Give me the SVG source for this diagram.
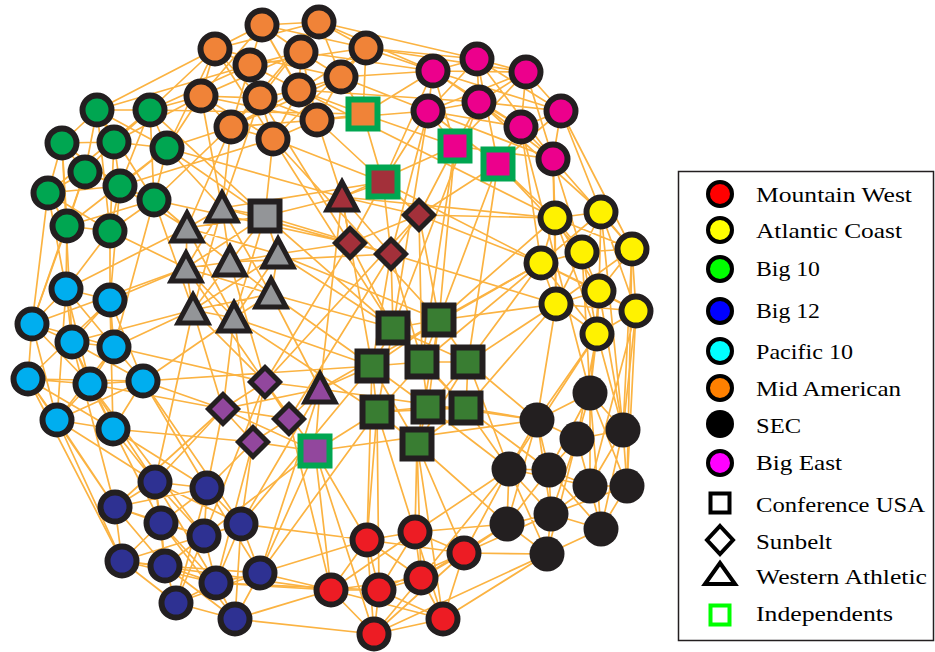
<svg xmlns="http://www.w3.org/2000/svg" width="935" height="652" viewBox="0 0 935 652">
<style>
.e{fill:none;stroke:#fbb342;stroke-width:1.7}
.n{stroke:#231f20;stroke-width:6}
.nd{stroke:#231f20;stroke-width:5}
.ind{stroke:#00a651;stroke-width:6}
.ma{fill:#f08338}.be{fill:#ec008c}.bt{fill:#00a651}.pc{fill:#00aeef}.wa{fill:#939598}
.br{fill:#a3303a}.pu{fill:#92479d}.cu{fill:#397d32}.ac{fill:#fff200}.se{fill:#231f20}
.mw{fill:#ed1c24}.b12{fill:#2e3192}
.lt{font-family:"Liberation Serif","Times New Roman",serif;font-size:22px;fill:#000}
.lc{stroke:#000;stroke-width:4}
</style>
<defs>
<path id="tri" d="M0,-15L15,13L-15,13Z"/>
<path id="dia" d="M0,-14.5L14.5,0L0,14.5L-14.5,0Z"/>
<rect id="sq" x="-14.5" y="-14.5" width="29" height="29"/>
</defs>
<rect width="935" height="652" fill="#fff"/>
<g id="connectors">
<path class="e" d="M262 25L319 22M262 25L215 49M262 25L250 65M262 25L301 52M262 25L366 48M262 25L201 96M262 25L299 90M262 25L317 120M319 22L301 52M319 22L366 48M319 22L341 77M319 22L215 49M319 22L260 98M319 22L231 127M215 49L250 65M215 49L201 96M215 49L260 98M215 49L273 139M215 49L341 77M250 65L301 52M250 65L260 98M250 65L299 90M250 65L231 127M250 65L366 48M301 52L341 77M301 52L299 90M301 52L317 120M301 52L201 96M366 48L341 77M366 48L299 90M366 48L273 139M341 77L299 90M341 77L317 120M341 77L231 127M201 96L260 98M201 96L231 127M201 96L273 139M201 96L317 120M260 98L299 90M260 98L273 139M260 98L317 120M299 90L231 127M299 90L273 139M231 127L273 139M231 127L317 120M273 139L317 120"/>
<path class="e" d="M433 71L477 59M433 71L526 72M433 71L428 111M433 71L479 102M433 71L521 127M433 71L561 111M477 59L526 72M477 59L479 102M477 59L561 111M477 59L553 159M477 59L428 111M526 72L479 102M526 72L561 111M526 72L521 127M526 72L428 111M428 111L479 102M428 111L521 127M428 111L553 159M479 102L561 111M479 102L553 159M479 102L521 127M561 111L521 127M561 111L553 159M521 127L553 159M455 146L433 71M455 146L428 111M455 146L479 102M455 146L526 72M455 146L553 159M498 164L477 59M498 164L521 127M498 164L561 111M498 164L428 111"/>
<path class="e" d="M97 110L150 110M97 110L62 143M97 110L114 142M97 110L167 148M97 110L85 172M97 110L154 200M97 110L110 231M150 110L114 142M150 110L167 148M150 110L120 186M150 110L154 200M150 110L48 193M62 143L114 142M62 143L85 172M62 143L48 193M62 143L67 226M62 143L120 186M114 142L167 148M114 142L85 172M114 142L120 186M114 142L110 231M167 148L120 186M167 148L154 200M167 148L67 226M85 172L120 186M85 172L48 193M85 172L67 226M85 172L154 200M120 186L154 200M120 186L110 231M120 186L48 193M48 193L67 226M48 193L110 231M154 200L110 231M154 200L67 226M67 226L110 231"/>
<path class="e" d="M66 289L110 300M66 289L32 324M66 289L72 342M66 289L114 347M66 289L90 384M66 289L57 420M110 300L72 342M110 300L114 347M110 300L143 381M110 300L28 379M110 300L113 429M32 324L72 342M32 324L28 379M32 324L90 384M32 324L57 420M32 324L114 347M72 342L114 347M72 342L90 384M72 342L143 381M72 342L113 429M114 347L90 384M114 347L143 381M114 347L57 420M28 379L90 384M28 379L57 420M28 379L113 429M28 379L143 381M90 384L143 381M90 384L57 420M90 384L113 429M143 381L113 429M143 381L57 420M57 420L113 429"/>
<path class="e" d="M222 208L265 216M222 208L187 228M222 208L186 268M222 208L230 262M222 208L193 310M222 208L271 294M265 216L230 262M265 216L278 254M265 216L187 228M265 216L234 318M265 216L186 268M187 228L186 268M187 228L230 262M187 228L234 318M187 228L278 254M186 268L193 310M186 268L234 318M186 268L271 294M186 268L230 262M230 262L278 254M230 262L193 310M230 262L271 294M278 254L271 294M278 254L234 318M278 254L193 310M193 310L234 318M193 310L271 294M234 318L271 294"/>
<path class="e" d="M265 382L223 409M265 382L289 419M265 382L253 442M265 382L320 389M223 409L253 442M223 409L289 419M289 419L253 442M289 419L320 389M320 389L315 451M253 442L315 451M315 451L223 409M265 382L315 451M320 389L223 409M419 215L350 243M419 215L391 254M350 243L391 254M342 197L419 215M342 197L350 243M342 197L391 254M383 182L419 215M383 182L350 243M383 182L342 197M383 182L391 254M350 243L265 382M391 254L289 419M419 215L265 382M342 197L320 389"/>
<path class="e" d="M393 328L439 320M393 328L372 366M393 328L422 362M393 328L468 362M393 328L377 412M393 328L466 408M439 320L422 362M439 320L468 362M439 320L372 366M439 320L428 407M439 320L417 444M372 366L422 362M372 366L377 412M372 366L428 407M372 366L417 444M422 362L468 362M422 362L428 407M422 362L466 408M422 362L377 412M468 362L466 408M468 362L428 407M468 362L417 444M377 412L428 407M377 412L417 444M377 412L466 408M428 407L466 408M428 407L417 444M466 408L417 444"/>
<path class="e" d="M555 218L601 212M555 218L541 263M555 218L582 252M555 218L632 249M555 218L599 291M555 218L556 304M555 218L597 334M601 212L582 252M601 212L632 249M601 212L541 263M601 212L599 291M601 212L636 311M541 263L582 252M541 263L556 304M541 263L599 291M541 263L597 334M541 263L636 311M582 252L632 249M582 252L599 291M582 252L556 304M582 252L597 334M632 249L599 291M632 249L636 311M632 249L556 304M599 291L556 304M599 291L636 311M599 291L597 334M556 304L597 334M556 304L636 311M636 311L597 334"/>
<path class="e" d="M590 393L537 420M590 393L577 439M590 393L623 430M590 393L590 486M590 393L627 486M590 393L549 470M590 393L601 529M537 420L577 439M537 420L509 469M537 420L549 470M537 420L551 514M537 420L507 524M577 439L623 430M577 439L549 470M577 439L590 486M577 439L551 514M577 439L547 554M623 430L590 486M623 430L627 486M623 430L601 529M509 469L549 470M509 469L507 524M509 469L551 514M509 469L547 554M509 469L590 486M549 470L590 486M549 470L551 514M549 470L507 524M549 470L601 529M590 486L627 486M590 486L601 529M590 486L551 514M627 486L601 529M627 486L551 514M507 524L551 514M507 524L547 554M551 514L601 529M551 514L547 554M601 529L547 554"/>
<path class="e" d="M367 540L415 532M367 540L464 553M367 540L331 590M367 540L379 590M367 540L421 578M367 540L374 634M415 532L464 553M415 532L379 590M415 532L421 578M415 532L443 619M415 532L331 590M464 553L421 578M464 553L443 619M464 553L379 590M464 553L374 634M331 590L379 590M331 590L374 634M331 590L421 578M331 590L443 619M379 590L421 578M379 590L374 634M379 590L443 619M421 578L443 619M421 578L374 634M443 619L374 634"/>
<path class="e" d="M155 482L207 488M155 482L115 507M155 482L161 523M155 482L204 536M155 482L241 524M155 482L165 566M155 482L216 583M207 488L161 523M207 488L204 536M207 488L241 524M207 488L260 573M207 488L115 507M207 488L176 603M115 507L161 523M115 507L122 561M115 507L165 566M115 507L204 536M161 523L204 536M161 523L122 561M161 523L165 566M161 523L216 583M161 523L235 619M204 536L241 524M204 536L216 583M204 536L165 566M204 536L176 603M241 524L260 573M241 524L216 583M241 524L235 619M241 524L122 561M122 561L165 566M122 561L176 603M122 561L216 583M165 566L216 583M165 566L176 603M165 566L235 619M165 566L260 573M216 583L260 573M216 583L235 619M216 583L176 603M260 573L235 619M260 573L176 603M176 603L235 619"/>
<path class="e" d="M215 49L97 110M201 96L150 110M201 96L167 148M215 49L150 110M231 127L167 148M201 96L114 142M250 65L97 110M260 98L154 200M273 139L120 186M366 48L433 71M319 22L477 59M341 77L428 111M301 52L433 71M299 90L479 102M317 120L428 111M366 48L526 72M363 114L433 71M363 114L341 77M363 114L317 120M363 114L299 90M363 114L455 146M363 114L383 182M363 114L366 48M273 139L265 216M317 120L342 197M231 127L222 208M260 98L350 243M273 139L393 328M299 90L555 218M553 159L555 218M561 111L601 212M521 127L541 263M498 164L555 218M498 164L582 252M553 159L632 249M455 146L439 320M498 164L468 362M428 111L383 182M455 146L419 215M521 127L590 393M479 102L393 328"/>
<path class="e" d="M67 226L66 289M110 231L110 300M48 193L32 324M67 226L32 324M110 231L66 289M120 186L110 300M154 200L114 347M48 193L66 289M154 200L187 228M167 148L222 208M110 231L186 268M120 186L187 228M154 200L193 310M57 420L115 507M113 429L155 482M113 429L207 488M90 384L155 482M28 379L115 507M143 381L207 488M57 420L122 561M113 429L161 523M110 300L186 268M114 347L193 310M143 381L234 318M66 289L187 228M143 381L223 409"/>
<path class="e" d="M265 216L342 197M278 254L350 243M271 294L393 328M230 262L265 382M234 318L223 409M193 310L223 409M271 294L372 366M265 216L391 254M222 208L383 182M223 409L207 488M253 442L241 524M315 451L260 573M265 382L204 536M253 442L216 583M315 451L367 540M320 389L372 366M315 451L377 412M289 419L331 590M439 320L419 215M393 328L391 254M468 362L556 304M466 408L537 420M468 362L509 469M417 444L415 532M377 412L367 540M428 407L509 469M417 444L507 524M422 362L391 254M439 320L541 263M417 444L464 553"/>
<path class="e" d="M556 304L537 420M597 334L590 393M636 311L623 430M597 334L577 439M599 291L590 393M541 263L468 362M556 304L439 320M555 218L419 215M541 263L419 215M507 524L464 553M547 554L443 619M509 469L415 532M507 524L421 578M547 554L464 553M331 590L260 573M367 540L260 573M331 590L235 619M235 619L374 634M379 590L216 583"/>
<path class="e" d="M155 482L193 310M207 488L253 442M143 381L372 366M154 200L350 243M278 254L393 328M342 197L555 218M273 139L439 320M428 111L393 328M222 208L350 243M541 263L320 389M537 420L315 451M72 342L193 310M90 384L223 409M241 524L320 389M415 532L377 412M549 470L466 408M582 252L590 393M632 249L623 430M636 311L627 486M464 553L509 469M150 110L363 114M167 148L342 197M32 324L186 268M115 507L223 409M122 561L331 590M234 318L377 412M186 268L265 382M391 254L556 304M419 215L498 164M455 146L342 197M320 389L537 420M372 366L241 524M377 412L260 573M315 451L331 590M374 634L547 554M509 469L597 334M623 430L599 291"/>
<path class="e" d="M234 318L372 366M278 254L439 320M265 216L393 328M230 262L391 254M193 310L265 382M271 294L320 389M234 318L253 442M114 347L265 382M113 429L253 442M143 381L241 524M90 384L204 536M155 482L223 409M204 536L315 451M260 573L320 389M367 540L372 366M379 590L377 412M421 578L417 444M443 619L417 444M374 634L315 451M509 469L466 408M537 420L468 362M556 304L466 408M541 263L422 362M555 218L439 320M498 164L439 320M455 146L422 362M419 215L422 362M391 254L372 366M350 243L393 328M342 197L372 366M383 182L541 263M317 120L419 215M273 139L383 182M428 111L391 254M433 71L383 182M479 102L601 212M561 111L632 249M526 72L582 252M553 159L556 304M636 311L590 486M597 334L537 420M601 212L623 430M62 143L72 342M85 172L32 324M28 379L122 561M57 420L155 482M72 342L115 507M150 110L265 216M167 148L265 216M231 127L187 228M201 96L222 208M260 98L222 208M215 49L167 148M250 65L150 110M319 22L433 71M366 48L477 59M341 77L433 71M216 583L331 590M241 524L367 540M507 524L415 532M509 469L421 578M464 553L551 514M623 430L597 334M627 486L632 249"/>
</g>
<g id="mid-american">
<g id="o1"><circle class="n ma" cx="262" cy="25" r="14.5"/></g>
<g id="o2"><circle class="n ma" cx="319" cy="22" r="14.5"/></g>
<g id="o3"><circle class="n ma" cx="215" cy="49" r="14.5"/></g>
<g id="o4"><circle class="n ma" cx="250" cy="65" r="14.5"/></g>
<g id="o5"><circle class="n ma" cx="301" cy="52" r="14.5"/></g>
<g id="o6"><circle class="n ma" cx="366" cy="48" r="14.5"/></g>
<g id="o7"><circle class="n ma" cx="341" cy="77" r="14.5"/></g>
<g id="o8"><circle class="n ma" cx="201" cy="96" r="14.5"/></g>
<g id="o9"><circle class="n ma" cx="260" cy="98" r="14.5"/></g>
<g id="o10"><circle class="n ma" cx="299" cy="90" r="14.5"/></g>
<g id="o11"><circle class="n ma" cx="231" cy="127" r="14.5"/></g>
<g id="o12"><circle class="n ma" cx="273" cy="139" r="14.5"/></g>
<g id="o13"><circle class="n ma" cx="317" cy="120" r="14.5"/></g>
<g id="oS"><use href="#sq" x="363" y="114" class="ind ma"/></g>
</g>
<g id="big-east">
<g id="m1"><circle class="n be" cx="433" cy="71" r="14.5"/></g>
<g id="m2"><circle class="n be" cx="477" cy="59" r="14.5"/></g>
<g id="m3"><circle class="n be" cx="526" cy="72" r="14.5"/></g>
<g id="m4"><circle class="n be" cx="428" cy="111" r="14.5"/></g>
<g id="m5"><circle class="n be" cx="479" cy="102" r="14.5"/></g>
<g id="m6"><circle class="n be" cx="561" cy="111" r="14.5"/></g>
<g id="m7"><circle class="n be" cx="521" cy="127" r="14.5"/></g>
<g id="m8"><circle class="n be" cx="553" cy="159" r="14.5"/></g>
<g id="mS1"><use href="#sq" x="455" y="146" class="ind be"/></g>
<g id="mS2"><use href="#sq" x="498" y="164" class="ind be"/></g>
</g>
<g id="sunbelt-brown">
<g id="bS"><use href="#sq" x="383" y="182" class="ind br"/></g>
<g id="bT"><use href="#tri" x="342" y="197" class="nd br"/></g>
<g id="bD1"><use href="#dia" x="419" y="215" class="nd br"/></g>
<g id="bD2"><use href="#dia" x="350" y="243" class="nd br"/></g>
<g id="bD3"><use href="#dia" x="391" y="254" class="nd br"/></g>
</g>
<g id="big-10">
<g id="g1"><circle class="n bt" cx="97" cy="110" r="14.5"/></g>
<g id="g2"><circle class="n bt" cx="150" cy="110" r="14.5"/></g>
<g id="g3"><circle class="n bt" cx="62" cy="143" r="14.5"/></g>
<g id="g4"><circle class="n bt" cx="114" cy="142" r="14.5"/></g>
<g id="g5"><circle class="n bt" cx="167" cy="148" r="14.5"/></g>
<g id="g6"><circle class="n bt" cx="85" cy="172" r="14.5"/></g>
<g id="g7"><circle class="n bt" cx="120" cy="186" r="14.5"/></g>
<g id="g8"><circle class="n bt" cx="48" cy="193" r="14.5"/></g>
<g id="g9"><circle class="n bt" cx="154" cy="200" r="14.5"/></g>
<g id="g10"><circle class="n bt" cx="67" cy="226" r="14.5"/></g>
<g id="g11"><circle class="n bt" cx="110" cy="231" r="14.5"/></g>
</g>
<g id="pacific-10">
<g id="c1"><circle class="n pc" cx="66" cy="289" r="14.5"/></g>
<g id="c2"><circle class="n pc" cx="110" cy="300" r="14.5"/></g>
<g id="c3"><circle class="n pc" cx="32" cy="324" r="14.5"/></g>
<g id="c4"><circle class="n pc" cx="72" cy="342" r="14.5"/></g>
<g id="c5"><circle class="n pc" cx="114" cy="347" r="14.5"/></g>
<g id="c6"><circle class="n pc" cx="28" cy="379" r="14.5"/></g>
<g id="c7"><circle class="n pc" cx="90" cy="384" r="14.5"/></g>
<g id="c8"><circle class="n pc" cx="143" cy="381" r="14.5"/></g>
<g id="c9"><circle class="n pc" cx="57" cy="420" r="14.5"/></g>
<g id="c10"><circle class="n pc" cx="113" cy="429" r="14.5"/></g>
</g>
<g id="western-athletic">
<g id="wT1"><use href="#tri" x="222" y="208" class="nd wa"/></g>
<g id="wS"><use href="#sq" x="265" y="216" class="n wa"/></g>
<g id="wT2"><use href="#tri" x="187" y="228" class="nd wa"/></g>
<g id="wT3"><use href="#tri" x="186" y="268" class="nd wa"/></g>
<g id="wT4"><use href="#tri" x="230" y="262" class="nd wa"/></g>
<g id="wT5"><use href="#tri" x="278" y="254" class="nd wa"/></g>
<g id="wT6"><use href="#tri" x="193" y="310" class="nd wa"/></g>
<g id="wT7"><use href="#tri" x="234" y="318" class="nd wa"/></g>
<g id="wT8"><use href="#tri" x="271" y="294" class="nd wa"/></g>
</g>
<g id="sunbelt-purple">
<g id="pD1"><use href="#dia" x="265" y="382" class="nd pu"/></g>
<g id="pD2"><use href="#dia" x="223" y="409" class="nd pu"/></g>
<g id="pD3"><use href="#dia" x="289" y="419" class="nd pu"/></g>
<g id="pD4"><use href="#dia" x="253" y="442" class="nd pu"/></g>
<g id="pT"><use href="#tri" x="320" y="389" class="nd pu"/></g>
<g id="pS"><use href="#sq" x="315" y="451" class="ind pu"/></g>
</g>
<g id="conference-usa">
<g id="d1"><use href="#sq" x="393" y="328" class="n cu"/></g>
<g id="d2"><use href="#sq" x="439" y="320" class="n cu"/></g>
<g id="d3"><use href="#sq" x="372" y="366" class="n cu"/></g>
<g id="d4"><use href="#sq" x="422" y="362" class="n cu"/></g>
<g id="d5"><use href="#sq" x="468" y="362" class="n cu"/></g>
<g id="d6"><use href="#sq" x="377" y="412" class="n cu"/></g>
<g id="d7"><use href="#sq" x="428" y="407" class="n cu"/></g>
<g id="d8"><use href="#sq" x="466" y="408" class="n cu"/></g>
<g id="d9"><use href="#sq" x="417" y="444" class="n cu"/></g>
</g>
<g id="atlantic-coast">
<g id="y1"><circle class="n ac" cx="555" cy="218" r="14.5"/></g>
<g id="y2"><circle class="n ac" cx="601" cy="212" r="14.5"/></g>
<g id="y3"><circle class="n ac" cx="541" cy="263" r="14.5"/></g>
<g id="y4"><circle class="n ac" cx="582" cy="252" r="14.5"/></g>
<g id="y5"><circle class="n ac" cx="632" cy="249" r="14.5"/></g>
<g id="y6"><circle class="n ac" cx="599" cy="291" r="14.5"/></g>
<g id="y7"><circle class="n ac" cx="556" cy="304" r="14.5"/></g>
<g id="y8"><circle class="n ac" cx="636" cy="311" r="14.5"/></g>
<g id="y9"><circle class="n ac" cx="597" cy="334" r="14.5"/></g>
</g>
<g id="sec">
<g id="s1"><circle class="se" cx="590" cy="393" r="17.5"/></g>
<g id="s2"><circle class="se" cx="537" cy="420" r="17.5"/></g>
<g id="s3"><circle class="se" cx="577" cy="439" r="17.5"/></g>
<g id="s4"><circle class="se" cx="623" cy="430" r="17.5"/></g>
<g id="s5"><circle class="se" cx="509" cy="469" r="17.5"/></g>
<g id="s6"><circle class="se" cx="549" cy="470" r="17.5"/></g>
<g id="s7"><circle class="se" cx="590" cy="486" r="17.5"/></g>
<g id="s8"><circle class="se" cx="627" cy="486" r="17.5"/></g>
<g id="s9"><circle class="se" cx="507" cy="524" r="17.5"/></g>
<g id="s10"><circle class="se" cx="551" cy="514" r="17.5"/></g>
<g id="s11"><circle class="se" cx="601" cy="529" r="17.5"/></g>
<g id="s12"><circle class="se" cx="547" cy="554" r="17.5"/></g>
</g>
<g id="mountain-west">
<g id="r1"><circle class="n mw" cx="367" cy="540" r="14.5"/></g>
<g id="r2"><circle class="n mw" cx="415" cy="532" r="14.5"/></g>
<g id="r3"><circle class="n mw" cx="464" cy="553" r="14.5"/></g>
<g id="r4"><circle class="n mw" cx="331" cy="590" r="14.5"/></g>
<g id="r5"><circle class="n mw" cx="379" cy="590" r="14.5"/></g>
<g id="r6"><circle class="n mw" cx="421" cy="578" r="14.5"/></g>
<g id="r7"><circle class="n mw" cx="443" cy="619" r="14.5"/></g>
<g id="r8"><circle class="n mw" cx="374" cy="634" r="14.5"/></g>
</g>
<g id="big-12">
<g id="u1"><circle class="n b12" cx="155" cy="482" r="14.5"/></g>
<g id="u2"><circle class="n b12" cx="207" cy="488" r="14.5"/></g>
<g id="u3"><circle class="n b12" cx="115" cy="507" r="14.5"/></g>
<g id="u4"><circle class="n b12" cx="161" cy="523" r="14.5"/></g>
<g id="u5"><circle class="n b12" cx="204" cy="536" r="14.5"/></g>
<g id="u6"><circle class="n b12" cx="241" cy="524" r="14.5"/></g>
<g id="u7"><circle class="n b12" cx="122" cy="561" r="14.5"/></g>
<g id="u8"><circle class="n b12" cx="165" cy="566" r="14.5"/></g>
<g id="u9"><circle class="n b12" cx="216" cy="583" r="14.5"/></g>
<g id="u10"><circle class="n b12" cx="260" cy="573" r="14.5"/></g>
<g id="u11"><circle class="n b12" cx="176" cy="603" r="14.5"/></g>
<g id="u12"><circle class="n b12" cx="235" cy="619" r="14.5"/></g>
</g>
<g id="legend">
<rect x="678.5" y="171.5" width="255" height="469" fill="#fff" stroke="#231f20" stroke-width="1.5"/>
<g id="leg-mw"><circle class="lc" cx="720" cy="194" r="12" fill="#ff0000"/><text class="lt" x="756" y="202" textLength="156" lengthAdjust="spacingAndGlyphs">Mountain West</text></g>
<g id="leg-ac"><circle class="lc" cx="720" cy="230" r="12" fill="#ffff00"/><text class="lt" x="756" y="238" textLength="146" lengthAdjust="spacingAndGlyphs">Atlantic Coast</text></g>
<g id="leg-b10"><circle class="lc" cx="720" cy="269" r="12" fill="#00ff00"/><text class="lt" x="756" y="276" textLength="64" lengthAdjust="spacingAndGlyphs">Big 10</text></g>
<g id="leg-b12"><circle class="lc" cx="720" cy="311" r="12" fill="#0000ff"/><text class="lt" x="756" y="318" textLength="64" lengthAdjust="spacingAndGlyphs">Big 12</text></g>
<g id="leg-p10"><circle class="lc" cx="720" cy="351" r="12" fill="#00ffff"/><text class="lt" x="756" y="359" textLength="97" lengthAdjust="spacingAndGlyphs">Pacific 10</text></g>
<g id="leg-ma"><circle class="lc" cx="720" cy="388" r="12" fill="#ff8000"/><text class="lt" x="756" y="396" textLength="145" lengthAdjust="spacingAndGlyphs">Mid American</text></g>
<g id="leg-sec"><circle cx="720" cy="424" r="14" fill="#000"/><text class="lt" x="756" y="433" textLength="45" lengthAdjust="spacingAndGlyphs">SEC</text></g>
<g id="leg-be"><circle class="lc" cx="720" cy="463" r="12" fill="#ff00ff"/><text class="lt" x="756" y="470" textLength="86" lengthAdjust="spacingAndGlyphs">Big East</text></g>
<g id="leg-cusa"><rect class="lc" x="710.5" y="493.5" width="19" height="19" fill="#fff"/><text class="lt" x="756" y="512" textLength="169" lengthAdjust="spacingAndGlyphs">Conference USA</text></g>
<g id="leg-sb"><path class="lc" d="M720,526L733,540L720,554L707,540Z" fill="#fff"/><text class="lt" x="756" y="549" textLength="76" lengthAdjust="spacingAndGlyphs">Sunbelt</text></g>
<g id="leg-wac"><path class="lc" d="M720,563L735,584L705,584Z" fill="#fff"/><text class="lt" x="756" y="584" textLength="171" lengthAdjust="spacingAndGlyphs">Western Athletic</text></g>
<g id="leg-ind"><rect x="710.5" y="605.5" width="19" height="19" fill="#fff" stroke="#00ff00" stroke-width="4"/><text class="lt" x="756" y="621" textLength="137" lengthAdjust="spacingAndGlyphs">Independents</text></g>
</g>
</svg>
